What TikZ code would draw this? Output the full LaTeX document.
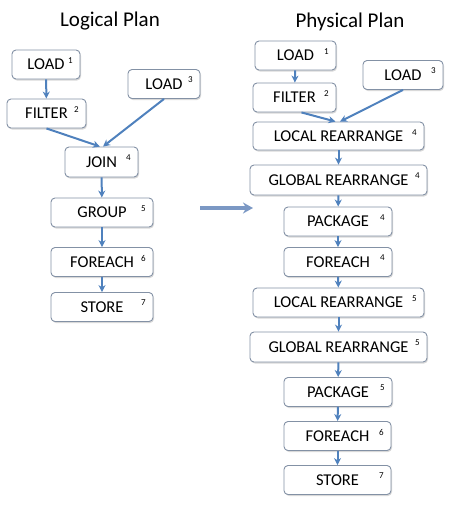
\documentclass[tikz,border=0pt]{standalone}
\usepackage{fontspec}
\setmainfont{Carlito}
\usepackage{tikz}
\usepackage{xcolor}
\usetikzlibrary{arrows.meta, positioning, calc, shadows}

\definecolor{boxline}{HTML}{8391A5}
\definecolor{flowblue}{HTML}{4F81BD}
\definecolor{mapblue}{HTML}{7B98C4}

\tikzset{
  op/.style={draw=boxline, line width=0.9pt, rounded corners=4pt, fill=white,
    drop shadow={shadow xshift=1pt, shadow yshift=-1.5pt, opacity=0.3},
    minimum height=29pt, inner sep=0pt, font=\fontsize{16.5}{16.5}\selectfont},
  num/.style={anchor=center, xshift=-10pt, yshift=-11pt, inner sep=0pt,
    font=\fontsize{9}{9}\selectfont},
  tag/.style={label={[num]north east:#1}},
  flow/.style={-{Stealth[length=7pt, width=7pt]}, flowblue, line width=2pt},
  title/.style={font=\fontsize{21}{21}\selectfont}
}

\begin{document}
\begin{tikzpicture}[x=1pt, y=-1pt]
\useasboundingbox (0,0) rectangle (450,512);

% Logical plan (left)
\node[title] (ltitle) at (110,21) {Logical Plan};
\node[op, tag=1, minimum width=68pt] (lload1) at (46,64.5) {LOAD};
\node[op, tag=2, minimum width=79pt] (lfilter2) at (46.5,113.5) {FILTER};
\node[op, tag=3, minimum width=72pt] (lload3) at (164,84) {LOAD};
\node[op, tag=4, minimum width=73pt, minimum height=30pt] (ljoin4) at (101.5,162) {JOIN};
\node[op, tag=5, minimum width=102pt] (lgroup5) at (102,212.5) {GROUP};
\node[op, tag=6, minimum width=102pt] (lforeach6) at (102,262) {FOREACH};
\node[op, tag=7, minimum width=102pt] (lstore7) at (102,307) {STORE};

\draw[flow] (lload1) -- (lfilter2);
\draw[flow] (lfilter2.south) -- ([xshift=-1.5pt]ljoin4.north);
\draw[flow] (lload3.south) -- ([xshift=1.5pt]ljoin4.north);
\foreach \a/\b in {ljoin4/lgroup5, lgroup5/lforeach6, lforeach6/lstore7} {
    \draw[flow] (\a) -- (\b);
}

% Arrow
\coordinate (mapfrom) at (200,208);
\coordinate (mapto) at (253,208);
\draw[-{Stealth[length=10pt, width=11pt]}, mapblue, line width=3.4pt] (mapfrom) -- (mapto);

% Physical plan (right)
\node[title] (ptitle) at (350,22) {Physical Plan};
\node[op, tag=1, minimum width=81pt] (pload1) at (295.5,55.5) {LOAD};
\node[op, tag=3, minimum width=80pt] (pload3) at (403,75) {LOAD};
\node[op, tag=2, minimum width=83pt] (pfilter2) at (294.5,97.5) {FILTER};
\node[op, tag=4, minimum width=171pt, minimum height=28pt] (plr4) at (338.5,136) {LOCAL REARRANGE};
\node[op, tag=4, minimum width=177pt, minimum height=30pt] (pgr4) at (338.5,180) {GLOBAL REARRANGE};
\node[op, tag=4, minimum width=108pt] (ppkg4) at (338,221.5) {PACKAGE};
\node[op, tag=4, minimum width=108pt] (pfe4) at (338,262) {FOREACH};
\node[op, tag=5, minimum width=171pt] (plr5) at (338.5,302.5) {LOCAL REARRANGE};
\node[op, tag=5, minimum width=177pt, minimum height=30pt] (pgr5) at (338.5,347) {GLOBAL REARRANGE};
\node[op, tag=5, minimum width=108pt] (ppkg5) at (338,392) {PACKAGE};
\node[op, tag=6, minimum width=107pt] (pfe6) at (337.5,436) {FOREACH};
\node[op, tag=7, minimum width=107pt] (pstore7) at (337.5,480) {STORE};

\draw[flow] (pload1) -- (pfilter2);
\draw[flow] ([xshift=7pt]pfilter2.south) -- ([xshift=-3pt]plr4.north);
\draw[flow] (pload3.south) -- ([xshift=1.5pt]plr4.north);
\foreach \a/\b in {plr4/pgr4, pgr4/ppkg4, ppkg4/pfe4, pfe4/plr5, plr5/pgr5, pgr5/ppkg5, ppkg5/pfe6, pfe6/pstore7} {
    \draw[flow] (\a) -- (\b);
}
\end{tikzpicture}
\end{document}
